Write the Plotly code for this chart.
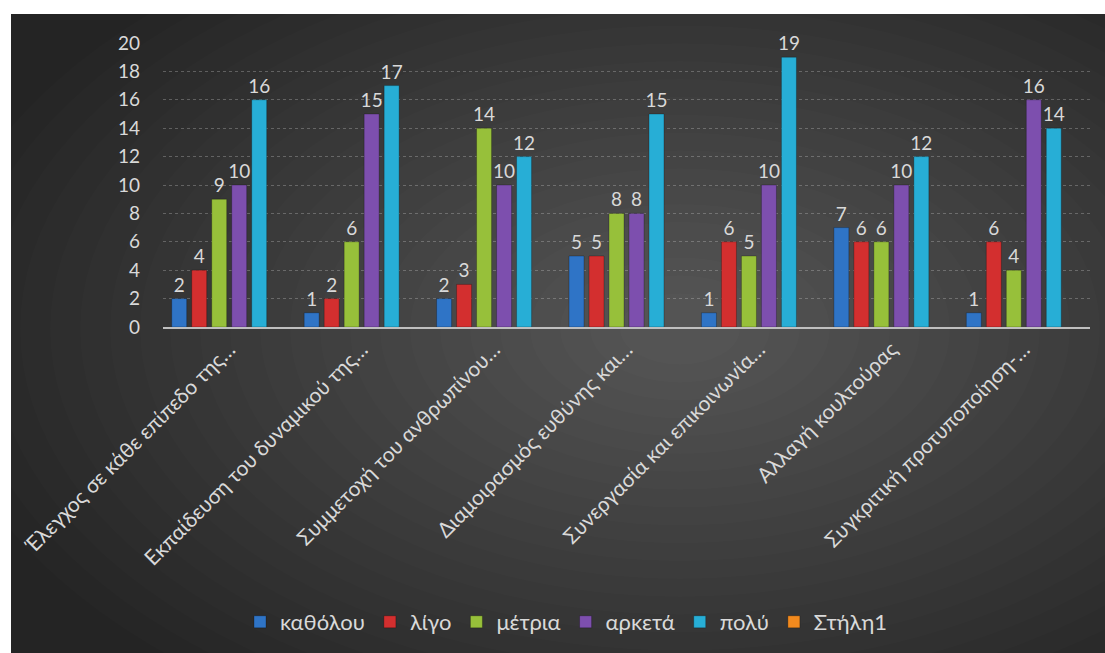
import plotly.graph_objects as go

categories = [
    "Έλεγχος σε κάθε επίπεδο της…",
    "Εκπαίδευση του δυναμικού της…",
    "Συμμετοχή του ανθρωπίνου…",
    "Διαμοιρασμός ευθύνης και…",
    "Συνεργασία και επικοινωνία…",
    "Αλλαγή κουλτούρας",
    "Συγκριτική προτυποποίηση-…",
]
series_names = ["καθόλου", "λίγο", "μέτρια", "αρκετά", "πολύ", "Στήλη1"]
katholou = [2, 1, 2, 5, 1, 7, 1]
ligo = [4, 2, 3, 5, 6, 6, 6]
metria = [9, 6, 14, 8, 5, 6, 4]
arketa = [10, 15, 10, 8, 10, 10, 16]
poly = [16, 17, 12, 15, 19, 12, 14]
stili1 = [None] * 7
y_ticks = [0, 2, 4, 6, 8, 10, 12, 14, 16, 18, 20]

colors = ["#2f74c6", "#d32f2f", "#97c03a", "#7d4fae", "#27aed6", "#f28a1e"]
all_series = [katholou, ligo, metria, arketa, poly, stili1]

W, H = 1105, 653
L, R, T, B = 163, 15, 43, 325
pw, ph = W - L - R, H - T - B

def px(x):
    return (x - L) / pw

def py(y):
    return (H - B - y) / ph

fig = go.Figure()
for name, vals, col in zip(series_names, all_series, colors):
    fig.add_trace(go.Bar(
        name=name, x=categories, y=vals,
        marker=dict(color=col, line=dict(color="rgba(0,0,0,0.25)", width=1)),
        text=[str(v) if v is not None else "" for v in vals],
        textposition="outside",
        constraintext="none",
        textfont=dict(color="#d9d9d9", size=19, family="Lato"),
        cliponaxis=False,
    ))

shapes = [dict(type="rect", xref="paper", yref="paper",
               x0=px(11), x1=px(W + 5), y0=py(H + 5), y1=py(14),
               fillcolor="#242424", line=dict(width=0), layer="below")]
cx, cy = 680, 330
N = 24
for i in range(N):
    f = 1 - i / N
    rx = 720 * f + 30
    ry = 430 * f + 18
    shapes.append(dict(type="circle", xref="paper", yref="paper",
                       x0=px(cx - rx), x1=px(cx + rx), y0=py(cy + ry), y1=py(cy - ry),
                       fillcolor="white", opacity=0.01, line=dict(width=0), layer="below"))
# white border cover (top and left)
shapes.append(dict(type="rect", xref="paper", yref="paper",
                   x0=px(-5), x1=px(W + 5), y0=py(14), y1=py(-5),
                   fillcolor="white", line=dict(width=0), layer="below"))
shapes.append(dict(type="rect", xref="paper", yref="paper",
                   x0=px(-5), x1=px(11), y0=py(H + 5), y1=py(-5),
                   fillcolor="white", line=dict(width=0), layer="below"))

fig.update_layout(
    width=W, height=H,
    margin=dict(l=L, r=R, t=T, b=B),
    paper_bgcolor="white",
    plot_bgcolor="rgba(0,0,0,0)",
    barmode="group",
    bargap=0.094,
    bargroupgap=0.25,
    font=dict(family="Lato", color="#d9d9d9"),
    shapes=shapes,
    showlegend=True,
    legend=dict(orientation="h", x=px(566), xanchor="center", y=py(622), yanchor="middle",
                font=dict(size=22, color="#d9d9d9", family="Lato"),
                bgcolor="rgba(0,0,0,0)", itemwidth=30, traceorder="normal"),
    xaxis=dict(tickangle=-45, tickfont=dict(size=21, color="#d9d9d9", family="Lato"),
               showline=True, linecolor="#bfbfbf", linewidth=2, showgrid=False,
               ticks="", fixedrange=True),
    yaxis=dict(range=[0, 20], tickvals=y_ticks, tickfont=dict(size=19, color="#d9d9d9", family="Lato"),
               showgrid=True, gridcolor="rgba(200,200,200,0.33)", griddash="dot", gridwidth=1,
               zeroline=False, showline=False, ticks="", ticklabelstandoff=22),
)

fig.write_html("out.html")
